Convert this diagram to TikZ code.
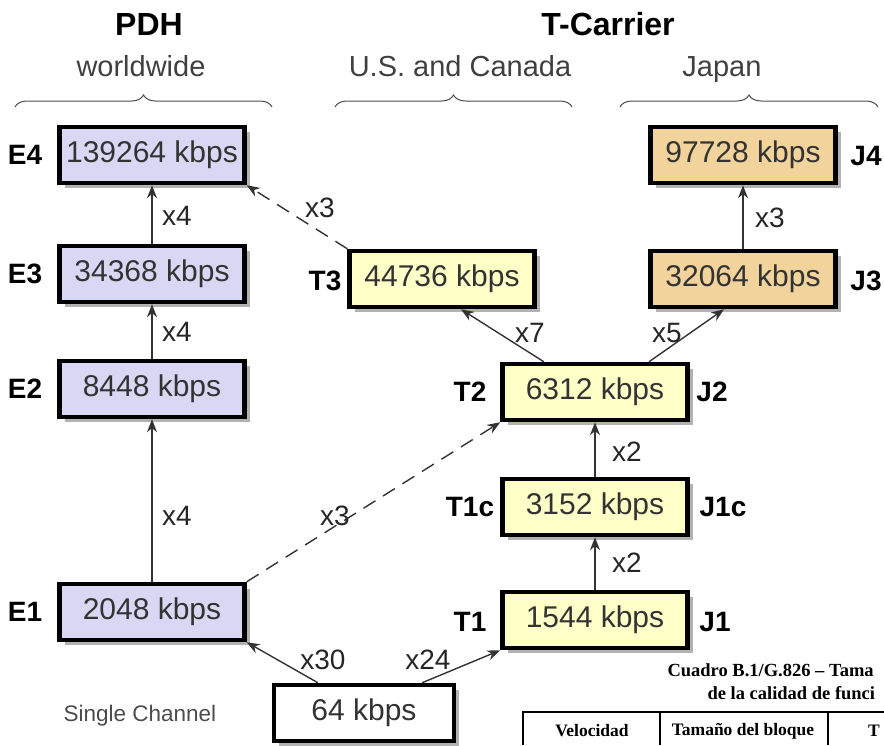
\documentclass[tikz,border=0pt]{standalone}
\usepackage{fontspec}
\setmainfont{Liberation Sans}
\newfontfamily\tabfont{Liberation Serif}
\usetikzlibrary{arrows.meta,calc,shadows,decorations.pathreplacing}

\definecolor{fillE}{HTML}{D8D8F4}
\definecolor{fillT}{HTML}{FFFFC8}
\definecolor{fillJ}{HTML}{F2D39B}

\begin{document}
\begin{tikzpicture}[x=1pt, y=-1pt,
    rate/.style={draw=black, line width=4.5pt, minimum width=185pt, minimum height=56pt,
        inner sep=0pt, text=black!80, font=\fontsize{30}{30}\selectfont,
        drop shadow={shadow xshift=5pt, shadow yshift=-5pt, fill=black, opacity=0.3}},
    tag/.style={font=\fontsize{28}{28}\selectfont\bfseries},
    mult/.style={font=\fontsize{28}{28}\selectfont, text=black!85},
    head/.style={font=\fontsize{32}{32}\selectfont\bfseries},
    area/.style={font=\fontsize{29}{29}\selectfont, text=black!75, anchor=base},
    grp/.style={draw=black!70, line width=1pt, decorate, decoration={brace, amplitude=12pt}},
    up/.style={-{Stealth[length=13pt, width=10pt]}, draw=black!80, line width=1.4pt},
    upd/.style={up, dash pattern=on 14pt off 9pt},
    tab/.style={font=\tabfont\fontsize{17.5}{17.5}\selectfont\bfseries},
    capt/.style={font=\tabfont\fontsize{18.5}{18.5}\selectfont\bfseries, anchor=west},
]
\clip (0,0) rectangle (884,745);

% headings
\node[head] (pdh) at (149,24) {PDH};
\node[head] (tcar) at (608,24) {T-Carrier};
\node[area] (ww) at (141,76) {worldwide};
\node[area] (usc) at (460,76) {U.S. and Canada};
\node[area] (jpn) at (722,76) {Japan};
\draw[grp] (15,107) -- (272,107);
\draw[grp] (335,107) -- (572,107);
\draw[grp] (620,107) -- (878,107);

% PDH
\node[rate, fill=fillE] (e4) at (152,155) {139264 kbps};
\node[rate, fill=fillE] (e3) at (152,274) {34368 kbps};
\node[rate, fill=fillE] (e2) at (152,389) {8448 kbps};
\node[rate, fill=fillE] (e1) at (152,612) {2048 kbps};
\node[tag] (le4) at (25,155) {E4};
\node[tag] (le3) at (25,274) {E3};
\node[tag] (le2) at (25,389) {E2};
\node[tag] (le1) at (25,612) {E1};

% T-carrier
\node[rate, fill=fillT] (t3) at (442,279) {44736 kbps};
\node[rate, fill=fillT] (t2) at (595,392) {6312 kbps};
\node[rate, fill=fillT] (t1c) at (595,507) {3152 kbps};
\node[rate, fill=fillT] (t1) at (595,620) {1544 kbps};
\node[rate, fill=fillJ] (j3) at (743,279) {32064 kbps};
\node[rate, fill=fillJ] (j4) at (743,155) {97728 kbps};
\node[tag] (lt3) at (325,281) {T3};
\node[tag] (lt2) at (470,392) {T2};
\node[tag] (lj2) at (712,392) {J2};
\node[tag] (lt1c) at (470,507) {T1c};
\node[tag] (lj1c) at (723,507) {J1c};
\node[tag] (lt1) at (470,622) {T1};
\node[tag] (lj1) at (715,622) {J1};
\node[tag] (lj3) at (866,281) {J3};
\node[tag] (lj4) at (866,156) {J4};

% single channel
\node[rate, minimum width=180pt, fill=white] (ch) at (364,713) {64 kbps};
\node[font=\fontsize{22.5}{22.5}\selectfont, text=black!70] (sgl) at (140,716) {Single Channel};

% multiplexing
\draw[up] (e1) -- (e2);
\draw[up] (e2) -- (e3);
\draw[up] (e3) -- (e4);
\draw[upd] (t3.north west) -- (e4.south east);
\draw[upd] (e1.north east) -- (t2.south west);
\draw[up] ($(ch.north)!0.5!(ch.north west)$) -- (e1.south east);
\draw[up] ($(ch.north)!0.63!(ch.north east)$) -- (t1.south west);
\draw[up] (t1) -- (t1c);
\draw[up] (t1c) -- (t2);
\draw[up] ($(t2.north)!0.54!(t2.north west)$) -- ($(t3.south)!0.2!(t3.south east)$);
\draw[up] ($(t2.north)!0.57!(t2.north east)$) -- ($(j3.south)!0.2!(j3.south west)$);
\draw[up] (j3) -- (j4);

\node[mult] (m34) at (177,216) {x4};
\node[mult] (m23) at (177,332) {x4};
\node[mult] (m12) at (177,516) {x4};
\node[mult] (mt3) at (320,208) {x3};
\node[mult] (me1) at (335,516) {x3};
\node[mult] (m30) at (323,660) {x30};
\node[mult] (m24) at (428,660) {x24};
\node[mult] (mt1) at (627,563) {x2};
\node[mult] (mt1c) at (627,452) {x2};
\node[mult] (mt2a) at (530,333) {x7};
\node[mult] (mt2b) at (667,333) {x5};
\node[mult] (mj3) at (770,218) {x3};

% table fragment
\node[capt] (cap1) at (664,670) {Cuadro B.1/G.826 – Tama};
\node[capt] (cap2) at (704,693) {de la calidad de funci};
\draw[line width=1.2pt] (523,745) |- (884,712);
\draw[line width=1.2pt] (660,712) -- (660,745);
\draw[line width=1.2pt] (828,712) -- (828,745);
\node[tab] (h1) at (592,731) {Velocidad};
\node[tab] (h2) at (743,731) {Tamaño del bloque};
\node[tab] (h3) at (874,731) {T};
\end{tikzpicture}
\end{document}
